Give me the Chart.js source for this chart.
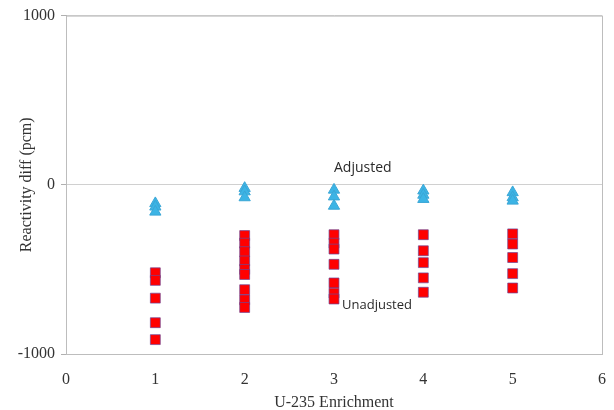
<!DOCTYPE html>
<html>
<head>
<meta charset="utf-8">
<script src="https://cdn.jsdelivr.net/npm/chart.js@4"></script>
<style>
    html, body { margin: 0; padding: 0; background: #fff; }
    #wrap { width: 614px; height: 410px; }
</style>
</head>
<body>
<div id="wrap"><canvas id="grafico" width="614" height="410"></canvas></div>
<script>
    // Enriquecimento (eixo x) e valores
    const enrichment = [1, 2, 3, 4, 5];
    const adjusted = [
        [-110, -130, -160],
        [-20, -40, -75],
        [-30, -70, -125],
        [-35, -60, -85],
        [-45, -75, -95]
    ];
    const unadjusted = [
        [-520, -565, -670, -815, -915],
        [-300, -345, -395, -450, -500, -530, -620, -680, -725],
        [-295, -345, -380, -470, -580, -640, -675],
        [-295, -390, -460, -550, -635],
        [-290, -350, -430, -525, -610]
    ];
    const xTicks = [0, 1, 2, 3, 4, 5, 6];
    const yTicks = [-1000, 0, 1000];
    const notas = [
        { text: 'Adjusted', x: 3.0, y: 100, size: 14 },
        { text: 'Unadjusted', x: 3.09, y: -715, size: 13 }
    ];

    function pontos(series) {
        const out = [];
        enrichment.forEach((e, i) => series[i].forEach(v => out.push({ x: e, y: v })));
        return out;
    }

    // Moldura da área do gráfico e textos de anotação
    const extras = {
        id: 'extras',
        afterDraw(chart) {
            const { ctx, chartArea, scales } = chart;
            ctx.save();
            ctx.strokeStyle = '#bdbdbd';
            ctx.lineWidth = 1;
            ctx.strokeRect(chartArea.left + 0.5, chartArea.top + 0.5,
                chartArea.right - chartArea.left, chartArea.bottom - chartArea.top);
            ctx.fillStyle = '#2a2a2a';
            ctx.textBaseline = 'middle';
            notas.forEach(n => {
                ctx.font = n.size + 'px "Open Sans", sans-serif';
                ctx.fillText(n.text, scales.x.getPixelForValue(n.x), scales.y.getPixelForValue(n.y));
            });
            ctx.restore();
        }
    };

    const serif = '"Liberation Serif", "Times New Roman", serif';

    new Chart(document.getElementById('grafico').getContext('2d'), {
        type: 'scatter',
        data: {
            datasets: [{
                label: 'Unadjusted',
                data: pontos(unadjusted),
                pointStyle: 'rect',
                pointRadius: 7,
                backgroundColor: '#ff0000',
                borderColor: 'rgba(110,70,150,0.7)',
                borderWidth: 1
            }, {
                label: 'Adjusted',
                data: pontos(adjusted),
                pointStyle: 'triangle',
                pointRadius: 6.5,
                backgroundColor: '#3cb4e5',
                borderColor: '#3aa6d6',
                borderWidth: 1
            }]
        },
        options: {
            responsive: false,
            animation: false,
            layout: { padding: { top: 15, right: 8, left: 0, bottom: 0 } },
            plugins: { legend: { display: false }, tooltip: { enabled: false } },
            scales: {
                x: {
                    type: 'linear',
                    min: 0, max: 6,
                    afterBuildTicks: s => { s.ticks = xTicks.map(v => ({ value: v })); },
                    afterFit: s => { s.height = 56; },
                    grid: { display: false },
                    border: { color: '#b0b0b0' },
                    ticks: { color: '#333', font: { family: serif, size: 16 }, padding: 8,
                        callback: v => String(v) },
                    title: { display: true, text: 'U-235 Enrichment', color: '#333', font: { family: serif, size: 16 }, padding: { top: 0, bottom: -2 } }
                },
                y: {
                    min: -1000, max: 1000,
                    afterBuildTicks: s => { s.ticks = yTicks.map(v => ({ value: v })); },
                    afterFit: s => { s.width = 66; },
                    grid: { color: '#d0d0d0', tickLength: 5, tickColor: '#b0b0b0' },
                    border: { color: '#b0b0b0' },
                    ticks: { color: '#333', font: { family: serif, size: 16 }, padding: 6,
                        callback: v => String(v) },
                    title: { display: true, text: 'Reactivity diff (pcm)', color: '#333', font: { family: serif, size: 16 }, padding: { top: 17, bottom: 0 } }
                }
            }
        },
        plugins: [extras]
    });
</script>
</body>
</html>
